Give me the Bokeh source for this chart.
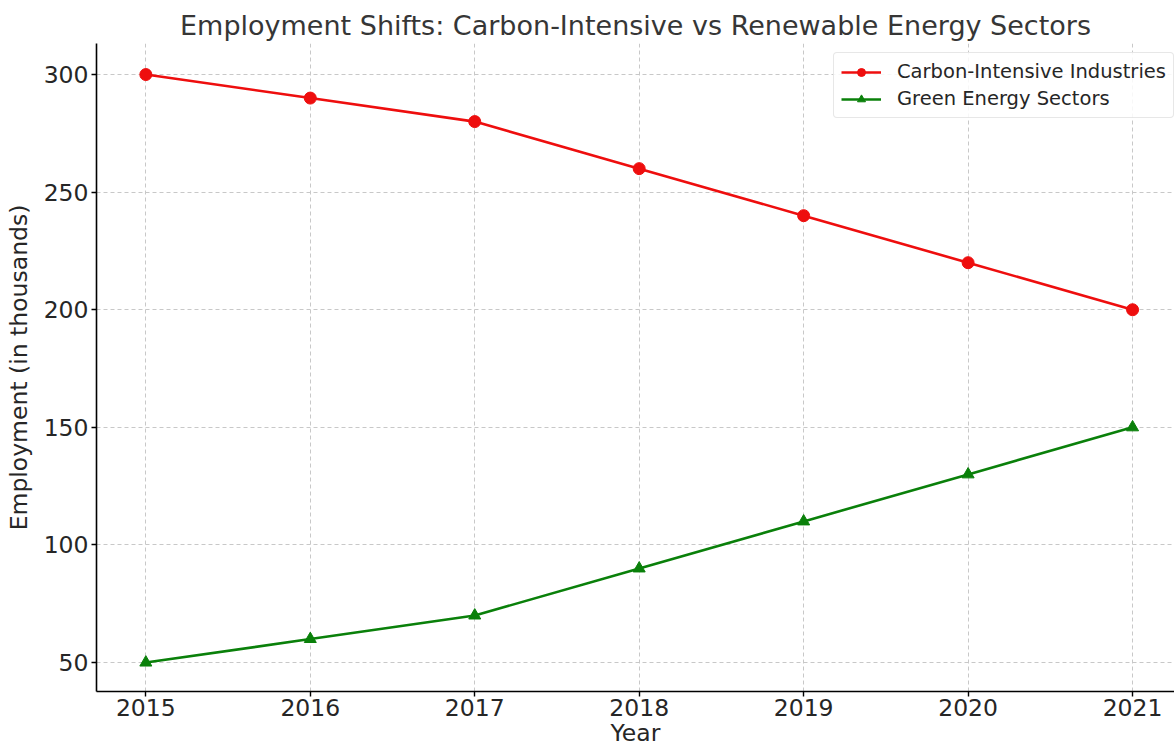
from bokeh.plotting import figure
from bokeh.embed import file_html
from bokeh.resources import INLINE
from bokeh.models import FixedTicker, Legend, LegendItem, ColumnDataSource

years = [2015, 2016, 2017, 2018, 2019, 2020, 2021]
carbon = [300, 290, 280, 260, 240, 220, 200]
green = [50, 60, 70, 90, 110, 130, 150]
y_ticks = [50, 100, 150, 200, 250, 300]

FONT = "DejaVu Sans"
TXT = "#262626"
RED = "#ee0e0e"
GREEN = "#0a800a"

p = figure(width=1174, height=751, output_backend="svg", toolbar_location=None,
           x_range=(2014.70, 2021.255), y_range=(37.7, 313.2),
           min_border_left=96, min_border_right=0, min_border_top=43, min_border_bottom=60)

p.title.text = "Employment Shifts: Carbon-Intensive vs Renewable Energy Sectors"
p.title.align = "center"
p.title.text_font = FONT
p.title.text_font_size = "27px"
p.title.text_font_style = "normal"
p.title.text_color = "#363636"
p.title.standoff = 6

src_c = ColumnDataSource(dict(x=years, y=carbon))
src_g = ColumnDataSource(dict(x=years, y=green))

lc = p.line("x", "y", source=src_c, line_color=RED, line_width=2.6)
mc = p.scatter("x", "y", source=src_c, marker="circle", size=12, fill_color=RED, line_color=RED)
lg = p.line("x", "y", source=src_g, line_color=GREEN, line_width=2.6)
mg = p.scatter("x", "y", source=src_g, marker="triangle", size=12, fill_color=GREEN, line_color=GREEN)

for ax in (p.xaxis, p.yaxis):
    ax.axis_line_color = "black"
    ax.axis_line_width = 1.6
    ax.major_tick_line_color = "black"
    ax.major_tick_line_width = 1.4
    ax.major_tick_out = 5
    ax.major_tick_in = 0
    ax.minor_tick_line_color = None
    ax.major_label_text_font = FONT
    ax.major_label_text_font_size = "23.5px"
    ax.major_label_text_color = TXT
    ax.axis_label_text_font = FONT
    ax.axis_label_text_font_size = "23.5px"
    ax.axis_label_text_font_style = "normal"
    ax.axis_label_text_color = TXT

p.xaxis.ticker = FixedTicker(ticks=years)
p.yaxis.ticker = FixedTicker(ticks=y_ticks)
p.xaxis.axis_label = "Year"
p.yaxis.axis_label = "Employment (in thousands)"
p.xaxis.major_label_standoff = 2
p.yaxis.major_label_standoff = 3
p.xaxis.axis_label_standoff = 0
p.yaxis.axis_label_standoff = 8

p.xgrid.grid_line_color = "#c8c8c8"
p.ygrid.grid_line_color = "#c8c8c8"
p.xgrid.grid_line_dash = "4 3"
p.ygrid.grid_line_dash = "4 3"
p.xgrid.grid_line_width = 1
p.ygrid.grid_line_width = 1
p.outline_line_color = None

legend = Legend(items=[
    LegendItem(label="Carbon-Intensive Industries", renderers=[lc, mc]),
    LegendItem(label="Green Energy Sectors", renderers=[lg, mg]),
], location=(737, 573))
legend.label_text_font = FONT
legend.label_text_font_size = "19.5px"
legend.label_text_color = TXT
legend.glyph_width = 40
legend.label_standoff = 16
legend.spacing = 4
legend.padding = 7
legend.margin = 0
legend.border_line_color = "#d0d0d0"
legend.border_line_width = 1
legend.border_radius = 4
legend.background_fill_alpha = 0.85
p.add_layout(legend)

open("out.html", "w").write(file_html(p, INLINE))
